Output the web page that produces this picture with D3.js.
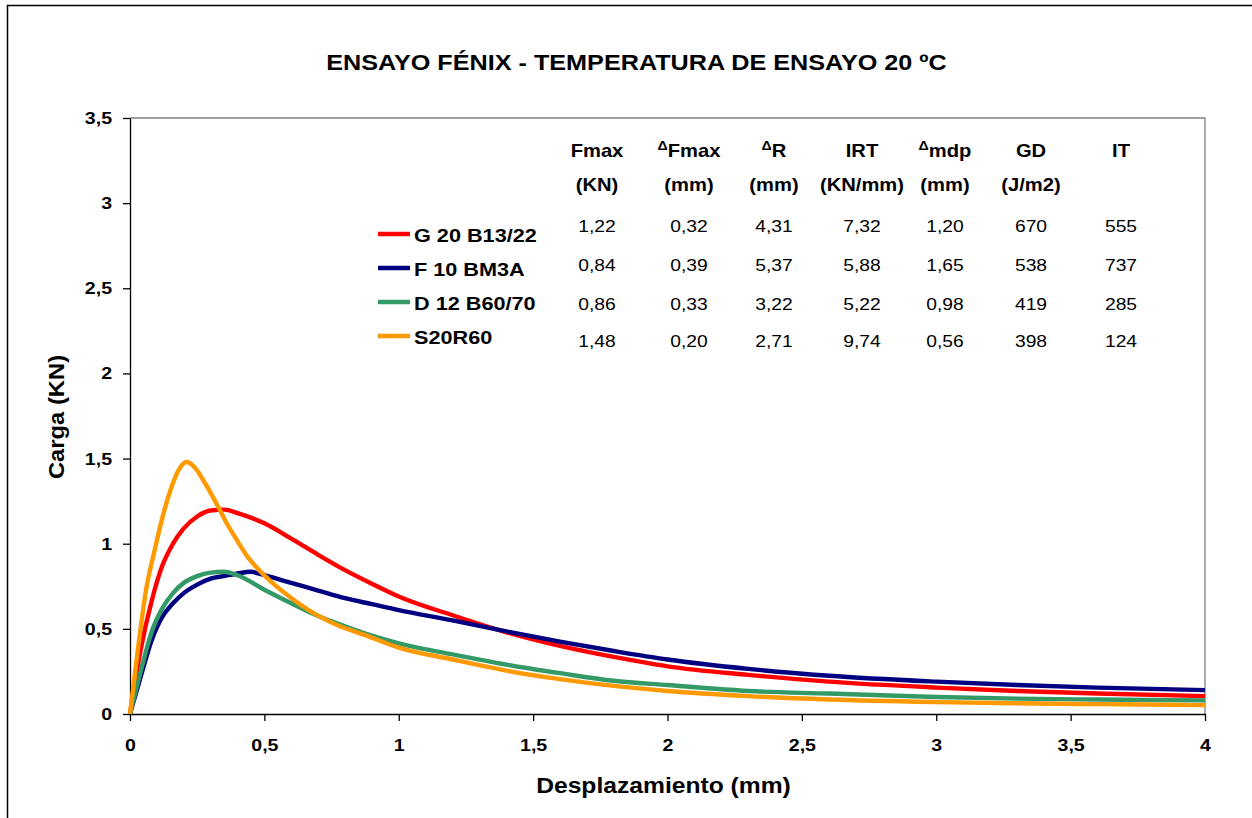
<!DOCTYPE html>
<html>
<head>
<meta charset="utf-8">
<script src="https://cdn.jsdelivr.net/npm/d3@7"></script>
<style>
html,body{margin:0;padding:0;background:#fff;}
svg{display:block;font-family:"Liberation Sans",Arial,sans-serif;}
</style>
</head>
<body>
<svg id="chart" width="1252" height="818"></svg>
<script>
// ---- data ----
const seriesNames = ["G 20 B13/22", "F 10 BM3A", "D 12 B60/70", "S20R60"];
const seriesColors = ["#FF0000", "#000080", "#339966", "#FF9900"];

const dispG = [0,0.04,0.08,0.12,0.16,0.2,0.25,0.3,0.35,0.4,0.5,0.6,0.7,0.8,0.9,1.0,1.2,1.4,1.6,1.8,2.0,2.3,2.6,3.0,3.3,3.6,4.0];
const loadG = [0,0.38,0.66,0.87,1.00,1.09,1.16,1.195,1.20,1.18,1.12,1.03,0.935,0.845,0.765,0.69,0.58,0.48,0.40,0.335,0.28,0.23,0.19,0.155,0.135,0.12,0.105];

const dispF = [0,0.04,0.08,0.12,0.16,0.2,0.25,0.3,0.35,0.4,0.45,0.5,0.6,0.7,0.8,0.9,1.0,1.2,1.4,1.6,1.8,2.0,2.3,2.6,3.0,3.3,3.6,4.0];
const loadF = [0,0.22,0.43,0.57,0.65,0.71,0.76,0.795,0.81,0.825,0.835,0.815,0.77,0.725,0.68,0.645,0.61,0.55,0.485,0.425,0.37,0.32,0.265,0.225,0.19,0.17,0.155,0.14];

const dispD = [0,0.04,0.08,0.12,0.16,0.2,0.25,0.3,0.35,0.4,0.5,0.6,0.7,0.8,0.9,1.0,1.2,1.4,1.6,1.8,2.0,2.3,2.6,3.0,3.3,3.6,4.0];
const loadD = [0,0.25,0.48,0.62,0.71,0.77,0.81,0.83,0.835,0.815,0.73,0.65,0.575,0.515,0.46,0.415,0.35,0.29,0.24,0.195,0.17,0.135,0.12,0.10,0.09,0.085,0.08];

const dispS = [0,0.035,0.06,0.09,0.12,0.155,0.18,0.21,0.25,0.27,0.31,0.335,0.36,0.4,0.43,0.48,0.53,0.61,0.68,0.76,0.88,1.0,1.2,1.4,1.6,1.8,2.0,2.3,2.6,3.0,3.3,3.6,4.0];
const loadS = [0,0.45,0.73,0.95,1.15,1.335,1.43,1.48,1.43,1.38,1.27,1.195,1.12,1.015,0.94,0.845,0.77,0.67,0.595,0.53,0.46,0.39,0.32,0.255,0.205,0.165,0.135,0.105,0.085,0.07,0.063,0.058,0.052];

const xTicks = [0,0.5,1,1.5,2,2.5,3,3.5,4];
const yTicks = [0,0.5,1,1.5,2,2.5,3,3.5];

const tableHeads1 = ["Fmax", "Fmax", "R", "IRT", "mdp", "GD", "IT"];
const tableDelta = [false, true, true, false, true, false, false];
const tableHeads2 = ["(KN)", "(mm)", "(mm)", "(KN/mm)", "(mm)", "(J/m2)", ""];
const tableRows = [
  ["1,22","0,32","4,31","7,32","1,20","670","555"],
  ["0,84","0,39","5,37","5,88","1,65","538","737"],
  ["0,86","0,33","3,22","5,22","0,98","419","285"],
  ["1,48","0,20","2,71","9,74","0,56","398","124"]
];

const title = "ENSAYO FÉNIX - TEMPERATURA DE ENSAYO 20 ºC";
const xTitle = "Desplazamiento (mm)";
const yTitle = "Carga (KN)";

// ---- drawing ----
const svg = d3.select("#chart");
const m = {left:130, right:1205, top:118, bottom:714};
const x = d3.scaleLinear().domain([0,4]).range([m.left, m.right]);
const y = d3.scaleLinear().domain([0,3.5]).range([m.bottom, m.top]);
const fmt = d => d3.format("")(d).replace(".", ",");

// horizontal stretch helper (reference glyphs are slightly wider)
function stretch(sel, k) {
  sel.each(function() {
    const w = this.getComputedTextLength();
    if (w > 0) d3.select(this).attr("textLength", w * k).attr("lengthAdjust", "spacingAndGlyphs");
  });
  return sel;
}

// outer frame
svg.append("rect").attr("x",7.5).attr("y",5.5).attr("width",1260).attr("height",830)
  .attr("fill","none").attr("stroke","#000").attr("stroke-width",1.5);

// plot frame (top & right gray)
svg.append("path")
  .attr("d", `M${m.left},${m.top}H${m.right}V${m.bottom}`)
  .attr("fill","none").attr("stroke","#808080").attr("stroke-width",1.3);

// title
stretch(svg.append("text").attr("x",636.5).attr("y",70).attr("text-anchor","middle")
  .attr("font-size",22).attr("font-weight","bold").text(title), 1.145);

// axes
const xAxis = d3.axisBottom(x).tickValues(xTicks).tickFormat(fmt).tickSize(7).tickSizeOuter(0).tickPadding(18);
const gx = svg.append("g").attr("transform",`translate(0,${m.bottom})`).call(xAxis);
gx.select(".domain").attr("stroke","#000").attr("stroke-width",1.3);
gx.selectAll(".tick line").attr("stroke","#000").attr("stroke-width",1.3);
stretch(gx.selectAll(".tick text").attr("font-size",17).attr("font-weight","bold").attr("fill","#000")
  .attr("font-family","Liberation Sans, Arial, sans-serif"), 1.15);

const yAxis = d3.axisLeft(y).tickValues(yTicks).tickFormat(fmt).tickSize(7).tickSizeOuter(0).tickPadding(11);
const gy = svg.append("g").attr("transform",`translate(${m.left},0)`).call(yAxis);
gy.select(".domain").attr("stroke","#000").attr("stroke-width",1.3);
gy.selectAll(".tick line").attr("stroke","#000").attr("stroke-width",1.3);
stretch(gy.selectAll(".tick text").attr("font-size",17).attr("font-weight","bold").attr("fill","#000")
  .attr("font-family","Liberation Sans, Arial, sans-serif"), 1.15);

// axis titles
stretch(svg.append("text").attr("x",663.5).attr("y",793).attr("text-anchor","middle")
  .attr("font-size",22).attr("font-weight","bold").text(xTitle), 1.12);
stretch(svg.append("text").attr("transform","translate(64,417) rotate(-90)").attr("text-anchor","middle")
  .attr("font-size",22).attr("font-weight","bold").text(yTitle), 1.08);

// series
const series = [
  {x: dispG, y: loadG},
  {x: dispF, y: loadF},
  {x: dispD, y: loadD},
  {x: dispS, y: loadS}
];
const line = d3.line().x(d => x(d[0])).y(d => y(d[1])).curve(d3.curveMonotoneX);
series.forEach((s,i) => {
  const pts = s.x.map((v,k) => [v, s.y[k]]);
  svg.append("path").attr("d", line(pts)).attr("fill","none")
    .attr("stroke", seriesColors[i]).attr("stroke-width", 4.4)
    .attr("stroke-linejoin","round");
});

// legend
const legY = [234, 268, 302, 336];
seriesNames.forEach((n,i) => {
  svg.append("line").attr("x1",378).attr("x2",410).attr("y1",legY[i]).attr("y2",legY[i])
    .attr("stroke",seriesColors[i]).attr("stroke-width",4.5);
  stretch(svg.append("text").attr("x",414).attr("y",legY[i]+8).attr("font-size",19)
    .attr("font-weight","bold").text(n), 1.14);
});

// table
const colX = [597, 689, 774, 862, 945, 1031, 1121];
tableHeads1.forEach((h,i) => {
  const t = svg.append("text").attr("x",colX[i]).attr("y",157).attr("text-anchor","middle")
    .attr("font-size",18.5).attr("font-weight","bold");
  if (tableDelta[i]) {
    t.append("tspan").attr("font-size",13).attr("dy",-7).text("Δ");
    t.append("tspan").attr("dy",7).text(h);
  } else {
    t.text(h);
  }
  stretch(t, 1.09);
  if (tableHeads2[i]) {
    stretch(svg.append("text").attr("x",colX[i]).attr("y",191).attr("text-anchor","middle")
      .attr("font-size",18.5).attr("font-weight","bold").text(tableHeads2[i]), 1.09);
  }
});
const rowY = [232, 271, 310, 347];
tableRows.forEach((r,ri) => {
  r.forEach((v,ci) => {
    stretch(svg.append("text").attr("x",colX[ci]).attr("y",rowY[ri]).attr("text-anchor","middle")
      .attr("font-size",17.2).text(v), 1.12);
  });
});
</script>
</body>
</html>
